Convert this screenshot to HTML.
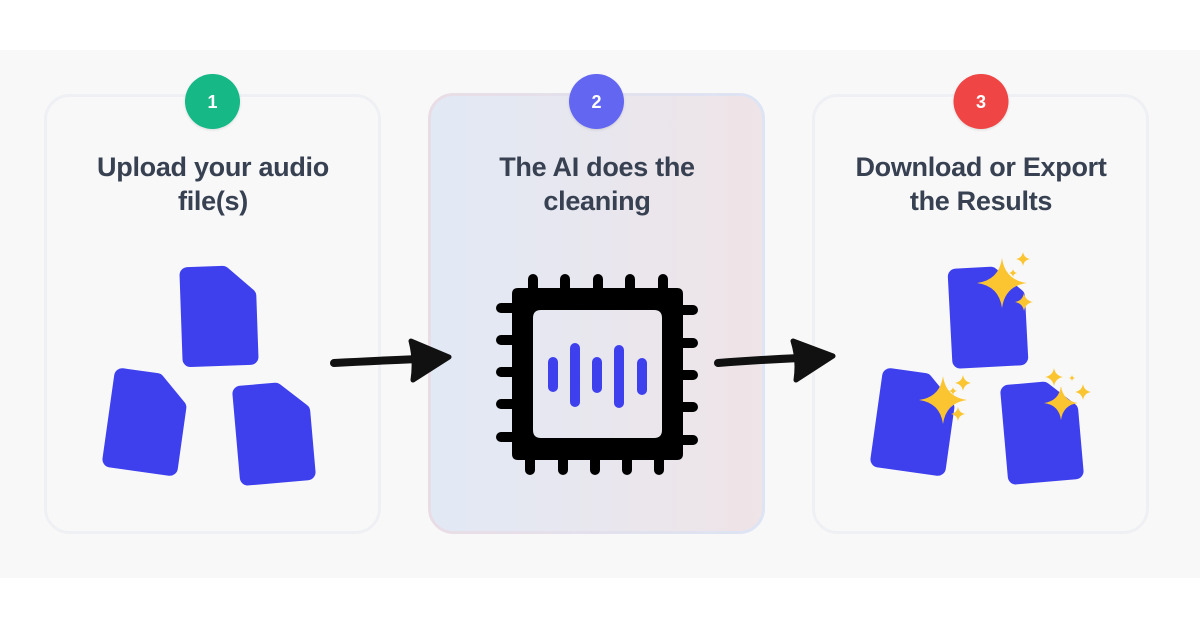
<!DOCTYPE html>
<html>
<head>
<meta charset="utf-8">
<style>
html,body{margin:0;padding:0;background:#ffffff;}
body{width:1200px;height:628px;overflow:hidden;position:relative;font-family:"Liberation Sans",sans-serif;}
svg{position:absolute;left:0;top:0;}
</style>
</head>
<body>
<svg width="1200" height="628" viewBox="0 0 1200 628" xmlns="http://www.w3.org/2000/svg">
  <defs>
    <linearGradient id="c2fill" x1="0" y1="0" x2="1" y2="0">
      <stop offset="0" stop-color="#e1e9f5"/>
      <stop offset="1" stop-color="#efe4e7"/>
    </linearGradient>
    <linearGradient id="c2stroke" x1="0" y1="0" x2="1" y2="0">
      <stop offset="0" stop-color="#e9dde5"/>
      <stop offset="1" stop-color="#dde4f4"/>
    </linearGradient>
    <filter id="sh" x="-30%" y="-30%" width="160%" height="160%">
      <feDropShadow dx="0" dy="1" stdDeviation="1.2" flood-color="#000" flood-opacity="0.12"/>
    </filter>
    <path id="file" d="M-30,-42 L5,-42 L30,-19 L30,42 L-30,42 Z" fill="#3e40ee" stroke="#3e40ee" stroke-width="16" stroke-linejoin="round"/>
  </defs>

  <!-- background band -->
  <rect x="0" y="50" width="1200" height="528" fill="#f8f8f9"/>

  <!-- cards -->
  <rect x="45.5" y="95.5" width="334" height="437" rx="24" fill="#f8f8f9" stroke="#eff0f3" stroke-width="3"/>
  <rect x="429.5" y="94.5" width="334" height="438" rx="24" fill="url(#c2fill)" stroke="url(#c2stroke)" stroke-width="3"/>
  <rect x="813.5" y="95.5" width="334" height="437" rx="24" fill="#f8f8f9" stroke="#eff0f3" stroke-width="3"/>

  <!-- number circles -->
  <circle cx="212.5" cy="101.5" r="27.5" fill="#12b886" filter="url(#sh)"/>
  <text x="212.5" y="108" text-anchor="middle" font-family="Liberation Sans, sans-serif" font-weight="700" font-size="18" fill="#ffffff">1</text>
  <circle cx="596.5" cy="101.5" r="27.5" fill="#6366f1" filter="url(#sh)"/>
  <text x="596.5" y="108" text-anchor="middle" font-family="Liberation Sans, sans-serif" font-weight="700" font-size="18" fill="#ffffff">2</text>
  <circle cx="981" cy="101.5" r="27.5" fill="#ef4444" filter="url(#sh)"/>
  <text x="981" y="108" text-anchor="middle" font-family="Liberation Sans, sans-serif" font-weight="700" font-size="18" fill="#ffffff">3</text>

  <!-- titles -->
  <g font-family="Liberation Sans, sans-serif" font-weight="700" font-size="27" fill="#374151" text-anchor="middle" letter-spacing="-0.3">
    <text x="213" y="176">Upload your audio</text>
    <text x="213" y="210">file(s)</text>
    <text x="597" y="176">The AI does the</text>
    <text x="597" y="210">cleaning</text>
    <text x="981" y="176">Download or Export</text>
    <text x="981" y="210">the Results</text>
  </g>

  <!-- card 1 files -->
  <use href="#file" transform="translate(219,316) rotate(-2)"/>
  <use href="#file" transform="translate(146,422) rotate(8)"/>
  <use href="#file" transform="translate(274,433) rotate(-5)"/>

  <!-- arrow 1 -->
  <path d="M334,363 Q372,361 418,359" fill="none" stroke="#111111" stroke-width="8" stroke-linecap="round"/>
  <path d="M411,341 L449,357 L413,380 Q416,360 411,341 Z" fill="#111111" stroke="#111111" stroke-width="5" stroke-linejoin="round"/>

  <!-- chip -->
  <path fill-rule="evenodd" fill="#000000" d="
    M518,288 L677,288 Q683,288 683,294 L683,454 Q683,460 677,460 L518,460 Q512,460 512,454 L512,294 Q512,288 518,288 Z
    M541,310 L654,310 Q662,310 662,318 L662,430 Q662,438 654,438 L541,438 Q533,438 533,430 L533,318 Q533,310 541,310 Z"/>
  <g stroke="#000000" stroke-width="10" stroke-linecap="round">
    <line x1="533" y1="279" x2="533" y2="292"/>
    <line x1="565" y1="279" x2="565" y2="292"/>
    <line x1="598" y1="279" x2="598" y2="292"/>
    <line x1="630" y1="279" x2="630" y2="292"/>
    <line x1="663" y1="279" x2="663" y2="292"/>
    <line x1="530" y1="456" x2="530" y2="470"/>
    <line x1="563" y1="456" x2="563" y2="470"/>
    <line x1="595" y1="456" x2="595" y2="470"/>
    <line x1="627" y1="456" x2="627" y2="470"/>
    <line x1="659" y1="456" x2="659" y2="470"/>
    <line x1="501" y1="308" x2="515" y2="308"/>
    <line x1="501" y1="340" x2="515" y2="340"/>
    <line x1="501" y1="372" x2="515" y2="372"/>
    <line x1="501" y1="404" x2="515" y2="404"/>
    <line x1="501" y1="437" x2="515" y2="437"/>
    <line x1="680" y1="310" x2="693" y2="310"/>
    <line x1="680" y1="343" x2="693" y2="343"/>
    <line x1="680" y1="375" x2="693" y2="375"/>
    <line x1="680" y1="407" x2="693" y2="407"/>
    <line x1="680" y1="440" x2="693" y2="440"/>
  </g>
  <g stroke="#3e40ee" stroke-width="10" stroke-linecap="round">
    <line x1="553" y1="362" x2="553" y2="387"/>
    <line x1="575" y1="348" x2="575" y2="402"/>
    <line x1="597" y1="362" x2="597" y2="388"/>
    <line x1="619" y1="350" x2="619" y2="403"/>
    <line x1="642" y1="363" x2="642" y2="390"/>
  </g>

  <!-- arrow 2 -->
  <path d="M718,363 Q756,360 800,358" fill="none" stroke="#111111" stroke-width="8" stroke-linecap="round"/>
  <path d="M793,341 L833,356 L796,380 Q799,360 793,341 Z" fill="#111111" stroke="#111111" stroke-width="5" stroke-linejoin="round"/>

  <!-- card 3 files -->
  <use href="#file" transform="translate(988,317) rotate(-3)"/>
  <use href="#file" transform="translate(914,422) rotate(8)"/>
  <use href="#file" transform="translate(1042,432) rotate(-5)"/>

  <!-- sparkles -->
  <g fill="#fbc531">
    <!-- top file -->
    <path transform="translate(1002,283) scale(25,25)" d="M0,-1 Q0.12,-0.12 1,0 Q0.12,0.12 0,1 Q-0.12,0.12 -1,0 Q-0.12,-0.12 0,-1 Z"/>
    <path transform="translate(1023,259) scale(7,7)" d="M0,-1 Q0.15,-0.15 1,0 Q0.15,0.15 0,1 Q-0.15,0.15 -1,0 Q-0.15,-0.15 0,-1 Z"/>
    <path transform="translate(1013,273) scale(4,4)" d="M0,-1 Q0.15,-0.15 1,0 Q0.15,0.15 0,1 Q-0.15,0.15 -1,0 Q-0.15,-0.15 0,-1 Z"/>
    <path transform="translate(1024,302) scale(9,9)" d="M0,-1 Q0.15,-0.15 1,0 Q0.15,0.15 0,1 Q-0.15,0.15 -1,0 Q-0.15,-0.15 0,-1 Z"/>
    <!-- bottom-left file -->
    <path transform="translate(943,400) scale(24,24)" d="M0,-1 Q0.12,-0.12 1,0 Q0.12,0.12 0,1 Q-0.12,0.12 -1,0 Q-0.12,-0.12 0,-1 Z"/>
    <path transform="translate(963,383) scale(8,8)" d="M0,-1 Q0.15,-0.15 1,0 Q0.15,0.15 0,1 Q-0.15,0.15 -1,0 Q-0.15,-0.15 0,-1 Z"/>
    <path transform="translate(953,391) scale(4,4)" d="M0,-1 Q0.15,-0.15 1,0 Q0.15,0.15 0,1 Q-0.15,0.15 -1,0 Q-0.15,-0.15 0,-1 Z"/>
    <path transform="translate(958,414) scale(7,7)" d="M0,-1 Q0.15,-0.15 1,0 Q0.15,0.15 0,1 Q-0.15,0.15 -1,0 Q-0.15,-0.15 0,-1 Z"/>
    <!-- bottom-right file -->
    <path transform="translate(1061,403) scale(17,17)" d="M0,-1 Q0.12,-0.12 1,0 Q0.12,0.12 0,1 Q-0.12,0.12 -1,0 Q-0.12,-0.12 0,-1 Z"/>
    <path transform="translate(1054,377) scale(9,9)" d="M0,-1 Q0.15,-0.15 1,0 Q0.15,0.15 0,1 Q-0.15,0.15 -1,0 Q-0.15,-0.15 0,-1 Z"/>
    <path transform="translate(1072,378) scale(3,3)" d="M0,-1 Q0.15,-0.15 1,0 Q0.15,0.15 0,1 Q-0.15,0.15 -1,0 Q-0.15,-0.15 0,-1 Z"/>
    <path transform="translate(1083,392) scale(8,8)" d="M0,-1 Q0.15,-0.15 1,0 Q0.15,0.15 0,1 Q-0.15,0.15 -1,0 Q-0.15,-0.15 0,-1 Z"/>
  </g>
</svg>
</body>
</html>
